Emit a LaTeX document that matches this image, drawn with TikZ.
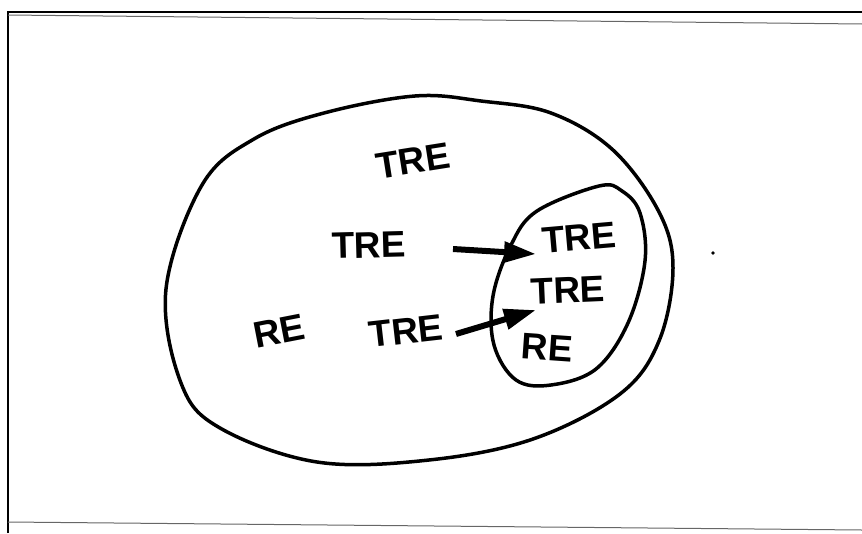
\documentclass[tikz,border=0pt]{standalone}
\usepackage{fontspec}
\setmainfont{Liberation Sans}
\usetikzlibrary{arrows.meta}
\tikzset{
  lbl/.style={font=\fontsize{37}{40}\selectfont\bfseries, inner sep=0pt},
  blob/.style={line width=3.5pt, line join=round},
  push/.style={line width=6pt, -{Triangle[length=32pt,width=20pt]}},
  frameline/.style={line width=2.5pt},
  scanline/.style={line width=1pt, black!60}
}
\begin{document}
\begin{tikzpicture}[x=1pt,y=-1pt]
\useasboundingbox (0,0) rectangle (862,533);
% frame
\draw[frameline] (8,533) -- (8,12) -- (862,12);
\draw[scanline] (8,15) -- (862,24);
\draw[scanline] (8,522) -- (862,530);
% outer region
\draw[blob] plot[smooth cycle, tension=0.6] coordinates {
 (415,96) (481,101) (551,113) (613,150) (659,212) (673,268) (659,341)
 (620,394) (533,439) (429,460) (317,462) (220,428) (181,383) (166,289)
 (202,185) (254,139) (324,113)};
% inner region
\draw[blob] plot[smooth cycle, tension=0.6] coordinates {
 (599,186) (622,191) (640,213) (645,261) (628,323) (596,369) (551,385)
 (516,380) (494,345) (493,296) (511,245) (537,211)};
% labels
\node[lbl, rotate=9]   (t1) at (413,161) {TRE};
\node[lbl, rotate=1.5] (t2) at (369,245) {TRE};
\node[lbl, rotate=11]  (r1) at (279,331) {RE};
\node[lbl, rotate=6.5] (t3) at (406,331) {TRE};
\node[lbl, rotate=5]   (t4) at (579,238) {TRE};
\node[lbl, rotate=2.5] (t5) at (568,290) {TRE};
\node[lbl, rotate=-4]  (r2) at (547,348) {RE};
% arrows
\coordinate (a1s) at (453,249);
\coordinate (a1e) at (536,254);
\coordinate (a2s) at (456,334);
\coordinate (a2e) at (536,310);
\draw[push] (a1s) -- (a1e);
\draw[push] (a2s) -- (a2e);
% stray dot
\fill (713,253) circle (1.8pt);
\end{tikzpicture}
\end{document}
